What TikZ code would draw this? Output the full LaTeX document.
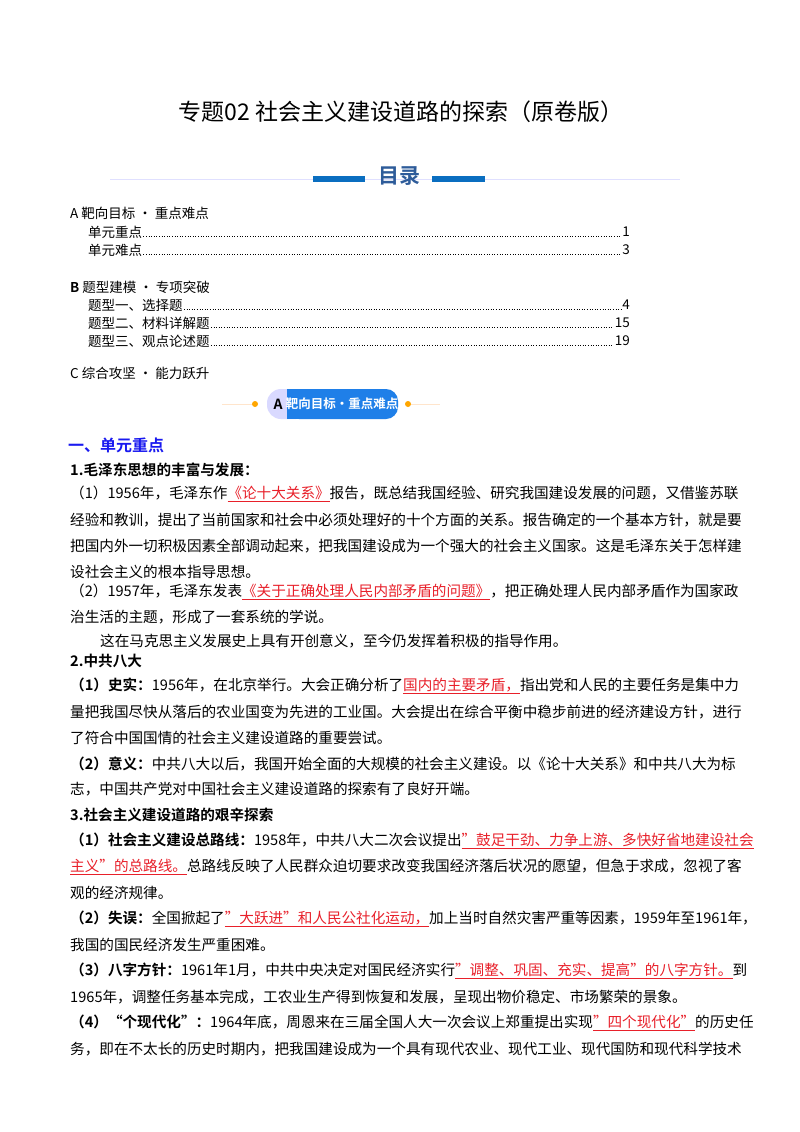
\documentclass[tikz,border=0pt]{standalone}
\usepackage{fontspec}
\setmainfont{Noto Sans CJK SC}[BoldFont={Noto Sans CJK SC Bold}]
\definecolor{hred}{HTML}{E8202A}
\definecolor{tblue}{HTML}{2E5C9A}
\definecolor{bar}{HTML}{0A6EC0}
\definecolor{secblue}{HTML}{1A1AF0}
\definecolor{pill}{HTML}{1F7FE8}
\newcommand{\hl}[1]{\textcolor{hred}{\underline{#1}}}
\begin{document}
\begin{tikzpicture}[x=1pt,y=-1pt,
  body/.style={anchor=west,inner sep=0pt,font=\fontsize{14.6}{14.6}\selectfont},
  toc/.style={anchor=west,inner sep=0pt,font=\fontsize{13.5}{13.5}\selectfont},
  pg/.style={anchor=east,inner sep=0pt,font=\fontsize{13.5}{13.5}\selectfont},
  lead/.style={dotted,line width=0.6pt,shorten <=1pt,shorten >=1pt}]
\fill[white] (0,0) rectangle (800,1132);
\useasboundingbox (0,0) rectangle (800,1132);
% title
\node[inner sep=0pt,font=\fontsize{23}{23}\selectfont] (title) at (401,112) {专题02 社会主义建设道路的探索（原卷版）};
% mulu banner
\draw[blue!12,line width=1pt] (110,179) -- (680,179);
\fill[bar] (313,176) rectangle (365,182);
\fill[bar] (432,176) rectangle (485,182);
\node[inner sep=0pt,text=tblue,font=\fontsize{21}{21}\selectfont\bfseries] (mulu) at (399,176) {目录};
% TOC
\node[toc] (ta) at (70,213) {A 靶向目标 · 重点难点};
\node[toc] (t1) at (88,232) {单元重点}; \node[pg] (p1) at (630,232) {1};
\node[toc] (t2) at (88,250) {单元难点}; \node[pg] (p2) at (630,250) {3};
\node[toc] (tb) at (70,287) {\textbf{B} 题型建模 · 专项突破};
\node[toc] (t3) at (88,305) {题型一、选择题}; \node[pg] (p3) at (630,305) {4};
\node[toc] (t4) at (88,323) {题型二、材料详解题}; \node[pg] (p4) at (630,323) {15};
\node[toc] (t5) at (88,341) {题型三、观点论述题}; \node[pg] (p5) at (630,341) {19};
\node[toc] (tc) at (70,373) {C 综合攻坚 · 能力跃升};
\foreach \a/\b in {t1/p1,t2/p2,t3/p3,t4/p4,t5/p5}
  \draw[lead] ([yshift=-4pt]\a.east) -- ([yshift=-4pt]\b.west);
% A banner
\draw[orange!20,line width=0.8pt] (222,404) -- (253,404);
\draw[orange!20,line width=0.8pt] (410,404) -- (440,404);
\fill[orange!70!yellow] (255,404) circle (3);
\fill[orange!70!yellow] (408,404) circle (3);
\fill[blue!15,rounded corners=14pt] (267,389) rectangle (310,419);
\fill[pill,rounded corners=12pt] (287,389) rectangle (398,419);
\fill[pill] (287,389) rectangle (300,419);
\node[inner sep=0pt,font=\fontsize{14}{14}\selectfont\bfseries] (bA) at (278,404) {A};
\node[inner sep=0pt,text=white,font=\fontsize{12.5}{12.5}\selectfont\bfseries] (bT) at (342,404) {靶向目标·重点难点};
% section
\node[body,text=secblue,font=\fontsize{16}{16}\selectfont\bfseries] (s1) at (68,445) {一、单元重点};
\node[body,font=\fontsize{14.6}{14.6}\selectfont\bfseries] (h1) at (70,470) {1.毛泽东思想的丰富与发展：};
\node[body] (l1) at (70,494) {（1）1956年，毛泽东作\hl{《论十大关系》}报告，既总结我国经验、研究我国建设发展的问题，又借鉴苏联};
\node[body] (l2) at (70,520) {经验和教训，提出了当前国家和社会中必须处理好的十个方面的关系。报告确定的一个基本方针，就是要};
\node[body] (l3) at (70,546) {把国内外一切积极因素全部调动起来，把我国建设成为一个强大的社会主义国家。这是毛泽东关于怎样建};
\node[body] (l4) at (70,572) {设社会主义的根本指导思想。};
\node[body] (l5) at (70,592) {（2）1957年，毛泽东发表\hl{《关于正确处理人民内部矛盾的问题》}，把正确处理人民内部矛盾作为国家政};
\node[body] (l6) at (70,617) {治生活的主题，形成了一套系统的学说。};
\node[body] (l7) at (100,641) {这在马克思主义发展史上具有开创意义，至今仍发挥着积极的指导作用。};
\node[body,font=\fontsize{14.6}{14.6}\selectfont\bfseries] (h2) at (70,661) {2.中共八大};
\node[body] (l8) at (70,686) {\textbf{（1）史实：}1956年，在北京举行。大会正确分析了\hl{国内的主要矛盾，}指出党和人民的主要任务是集中力};
\node[body] (l9) at (70,712) {量把我国尽快从落后的农业国变为先进的工业国。大会提出在综合平衡中稳步前进的经济建设方针，进行};
\node[body] (l10) at (70,738) {了符合中国国情的社会主义建设道路的重要尝试。};
\node[body] (l11) at (70,764) {\textbf{（2）意义：}中共八大以后，我国开始全面的大规模的社会主义建设。以《论十大关系》和中共八大为标};
\node[body] (l12) at (70,789) {志，中国共产党对中国社会主义建设道路的探索有了良好开端。};
\node[body,font=\fontsize{14.6}{14.6}\selectfont\bfseries] (h3) at (70,815) {3.社会主义建设道路的艰辛探索};
\node[body] (l13) at (70,841) {\textbf{（1）社会主义建设总路线：}1958年，中共八大二次会议提出\hl{"鼓足干劲、力争上游、多快好省地建设社会}};
\node[body] (l14) at (70,867) {\hl{主义"的总路线。}总路线反映了人民群众迫切要求改变我国经济落后状况的愿望，但急于求成，忽视了客};
\node[body] (l15) at (70,893) {观的经济规律。};
\node[body] (l16) at (70,919) {\textbf{（2）失误：}全国掀起了\hl{"大跃进"和人民公社化运动，}加上当时自然灾害严重等因素，1959年至1961年，};
\node[body] (l17) at (70,945) {我国的国民经济发生严重困难。};
\node[body] (l18) at (70,971) {\textbf{（3）八字方针：}1961年1月，中共中央决定对国民经济实行\hl{"调整、巩固、充实、提高"的八字方针。}到};
\node[body] (l19) at (70,997) {1965年，调整任务基本完成，工农业生产得到恢复和发展，呈现出物价稳定、市场繁荣的景象。};
\node[body] (l20) at (70,1023) {\textbf{（4）“个现代化”：}1964年底，周恩来在三届全国人大一次会议上郑重提出实现\hl{"四个现代化"}的历史任};
\node[body] (l21) at (70,1049) {务，即在不太长的历史时期内，把我国建设成为一个具有现代农业、现代工业、现代国防和现代科学技术};
\end{tikzpicture}
\end{document}
